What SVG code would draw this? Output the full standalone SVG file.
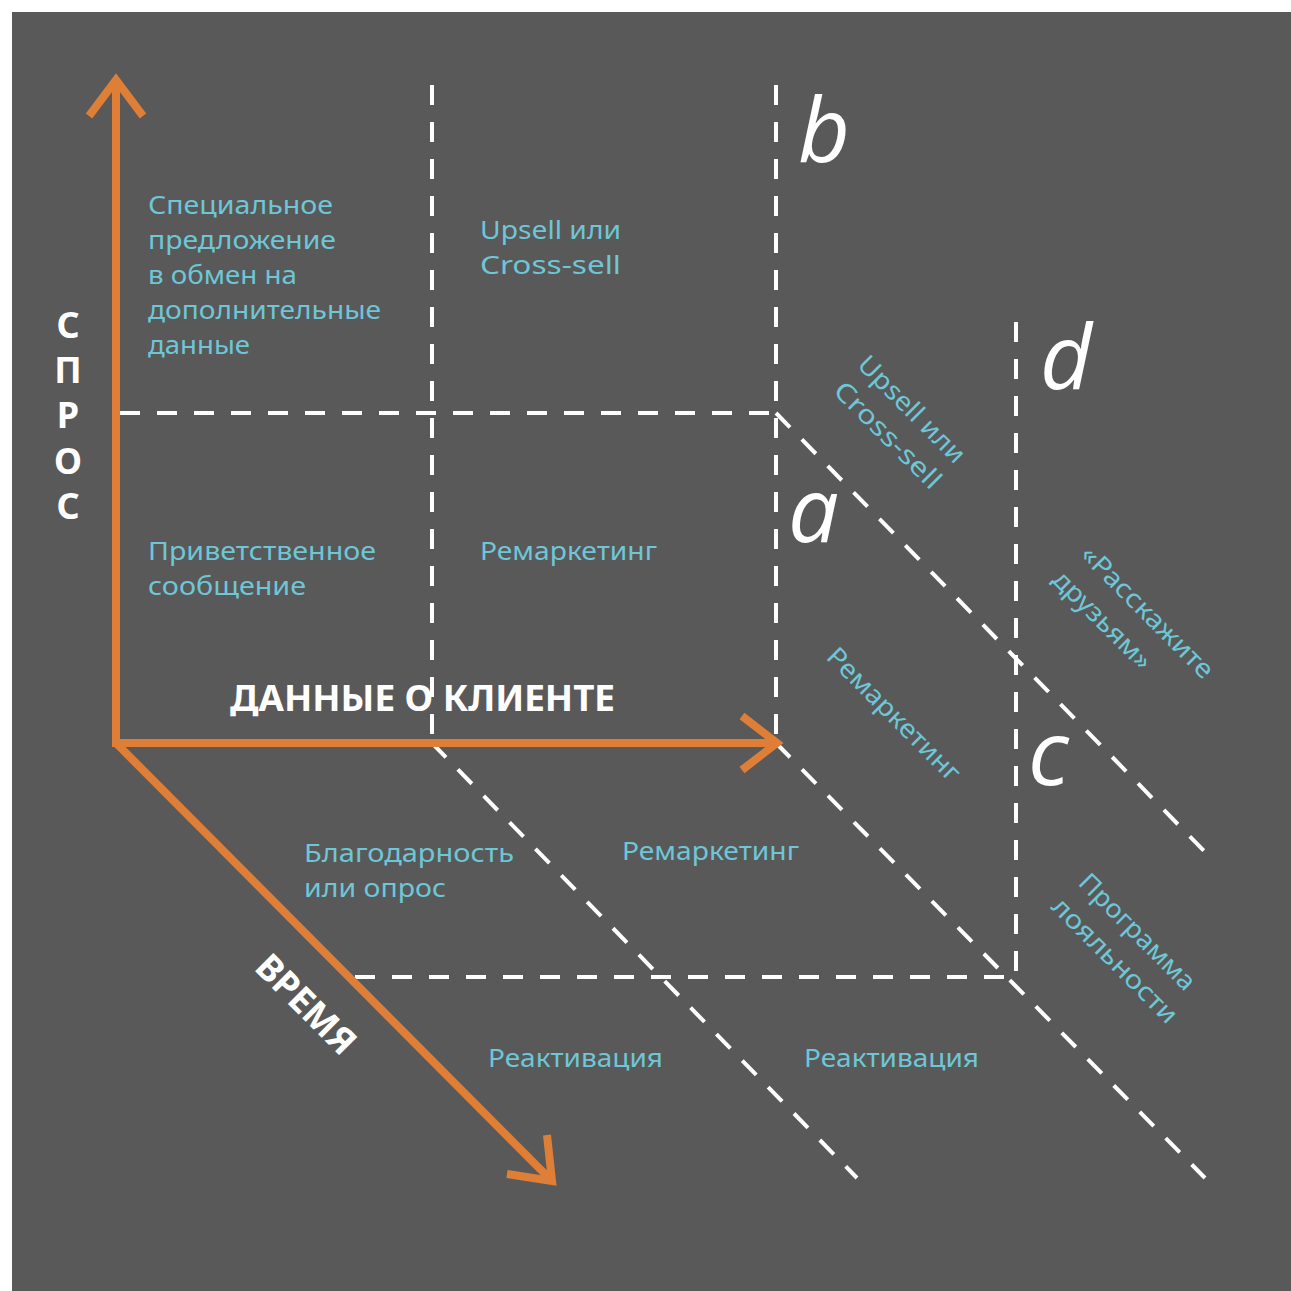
<svg xmlns="http://www.w3.org/2000/svg" width="1291" height="1291" viewBox="0 0 1291 1291">
<style>
.bg{fill:#595959}
.axis{fill:none;stroke:#df7f37;stroke-width:8;stroke-linejoin:miter;stroke-linecap:butt}
.dash{fill:none;stroke:#ffffff;stroke-width:4;stroke-dasharray:20 17}
.lbl{font-family:"Noto Sans","DejaVu Sans",sans-serif;font-size:26px;fill:#6ec6d6}
.bold{font-family:"Noto Sans","DejaVu Sans",sans-serif;font-weight:bold;fill:#ffffff}
.let{font-family:"Open Sans","Noto Sans",sans-serif;font-style:italic;font-size:90px;fill:#ffffff}
</style>
<rect class="bg" x="12" y="12" width="1279" height="1279"/>
<g id="connectors">
<line class="dash" x1="432" y1="85" x2="432" y2="743"/>
<line class="dash" x1="776" y1="85" x2="776" y2="743"/>
<line class="dash" x1="120" y1="413" x2="776" y2="413"/>
<line class="dash" x1="1016" y1="322" x2="1016" y2="977"/>
<line class="dash" x1="355" y1="977" x2="1016" y2="977"/>
<line class="dash" x1="432" y1="743" x2="857" y2="1178"/>
<line class="dash" x1="776" y1="743" x2="1205" y2="1178"/>
<line class="dash" x1="776" y1="413" x2="1205" y2="852"/>
<line class="axis" x1="116" y1="743" x2="116" y2="82"/>
<polyline class="axis" points="89,116 116,80 143,116"/>
<line class="axis" x1="112" y1="743" x2="774" y2="743"/>
<polyline class="axis" points="742,716 777,743 742,770"/>
<line class="axis" x1="116" y1="743" x2="550" y2="1179"/>
<polyline class="axis" points="547,1135 552,1181 507,1174"/>
</g>
<g id="axis-labels">
<g id="spros" class="bold" font-size="36" text-anchor="middle">
<text x="68" y="338">С</text>
<text x="68" y="383">П</text>
<text x="68" y="428">Р</text>
<text x="68" y="474">О</text>
<text x="68" y="519">С</text>
</g>
<text id="dannye" class="bold" font-size="36" x="230" y="711" textLength="385" lengthAdjust="spacingAndGlyphs">ДАННЫЕ О КЛИЕНТЕ</text>
<text id="vremya" class="bold" font-size="36" transform="translate(253,969) rotate(45)" textLength="125" lengthAdjust="spacingAndGlyphs">ВРЕМЯ</text>
</g>
<g id="letters" class="let">
<text x="798" y="162">b</text>
<text x="1040" y="389">d</text>
<text x="788" y="542">a</text>
<text x="1028" y="785">c</text>
</g>
<g id="cell-special" class="lbl">
<text x="148" y="214" textLength="185" lengthAdjust="spacingAndGlyphs">Специальное</text>
<text x="148" y="249" textLength="188" lengthAdjust="spacingAndGlyphs">предложение</text>
<text x="148" y="284" textLength="149" lengthAdjust="spacingAndGlyphs">в обмен на</text>
<text x="148" y="319" textLength="233" lengthAdjust="spacingAndGlyphs">дополнительные</text>
<text x="148" y="354" textLength="102" lengthAdjust="spacingAndGlyphs">данные</text>
</g>
<g id="cell-upsell" class="lbl">
<text x="480" y="239" textLength="141" lengthAdjust="spacingAndGlyphs">Upsell или</text>
<text x="480" y="274" textLength="141" lengthAdjust="spacingAndGlyphs">Cross-sell</text>
</g>
<g id="cell-welcome" class="lbl">
<text x="148" y="560" textLength="228" lengthAdjust="spacingAndGlyphs">Приветственное</text>
<text x="148" y="595" textLength="158" lengthAdjust="spacingAndGlyphs">сообщение</text>
</g>
<g id="cell-remarketing1" class="lbl">
<text x="480" y="560" textLength="177" lengthAdjust="spacingAndGlyphs">Ремаркетинг</text>
</g>
<g id="cell-thanks" class="lbl">
<text x="304" y="862" textLength="210" lengthAdjust="spacingAndGlyphs">Благодарность</text>
<text x="304" y="897" textLength="142" lengthAdjust="spacingAndGlyphs">или опрос</text>
</g>
<g id="cell-remarketing2" class="lbl">
<text x="622" y="860" textLength="177" lengthAdjust="spacingAndGlyphs">Ремаркетинг</text>
</g>
<g id="cell-react1" class="lbl">
<text x="488" y="1067" textLength="175" lengthAdjust="spacingAndGlyphs">Реактивация</text>
</g>
<g id="cell-react2" class="lbl">
<text x="804" y="1067" textLength="175" lengthAdjust="spacingAndGlyphs">Реактивация</text>
</g>
<g id="cell-upsell-rot" class="lbl">
<text transform="translate(856,366) rotate(45)" textLength="140" lengthAdjust="spacingAndGlyphs">Upsell или</text>
<text transform="translate(832,392) rotate(45)" textLength="140" lengthAdjust="spacingAndGlyphs">Cross-sell</text>
</g>
<g id="cell-friends" class="lbl">
<text transform="translate(1079,556) rotate(45)" textLength="176" lengthAdjust="spacingAndGlyphs">«Расскажите</text>
<text transform="translate(1051,581) rotate(45)" textLength="128" lengthAdjust="spacingAndGlyphs">друзьям»</text>
</g>
<g id="cell-remarketing-rot" class="lbl">
<text transform="translate(825,658) rotate(45)" textLength="177" lengthAdjust="spacingAndGlyphs">Ремаркетинг</text>
</g>
<g id="cell-loyalty" class="lbl">
<text transform="translate(1077,884) rotate(45)" textLength="153" lengthAdjust="spacingAndGlyphs">Программа</text>
<text transform="translate(1050,908) rotate(45)" textLength="166" lengthAdjust="spacingAndGlyphs">лояльности</text>
</g>
</svg>
